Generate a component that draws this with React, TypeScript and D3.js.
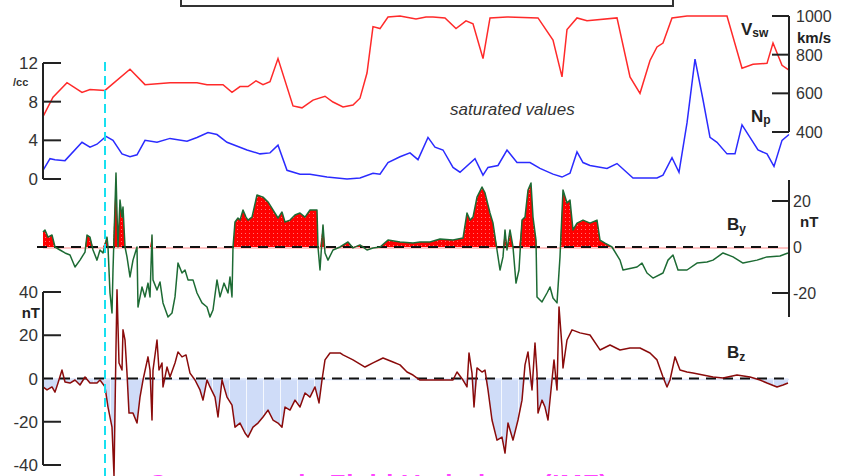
import React from "react";
import * as d3 from "d3";

// time in hours
const vsw: [number, number][] = [
  [0, 480], [1.0, 580], [2.4, 655], [3.9, 605], [4.7, 620], [6.2, 615], [8.7, 725], [10.2, 645],
  [12.7, 655], [15.4, 655], [16.4, 645], [18.0, 645], [18.9, 605], [19.7, 635], [20.5, 635],
  [21.3, 665], [22.0, 645], [22.7, 660], [23.5, 780], [25.0, 535], [25.9, 525], [27.0, 565],
  [28.2, 585], [29.0, 555], [30.0, 530], [31.0, 540], [31.7, 575], [32.4, 705], [33.0, 945],
  [33.7, 935], [34.5, 995], [35.7, 1000], [37.3, 985], [38.3, 995], [39.0, 995], [40.2, 990],
  [41.3, 935], [42.3, 975], [43.0, 960], [44.0, 780], [44.7, 990], [46.4, 995], [49.5, 990],
  [51.0, 875], [51.9, 685], [52.4, 930], [53.4, 990], [54.4, 975], [57.4, 990], [58.7, 685],
  [59.7, 600], [60.7, 770], [61.4, 840], [62.0, 860], [62.9, 990], [64.4, 1000], [68.4, 1000],
  [69.9, 730], [71.0, 750], [72.4, 755], [73.0, 860], [73.9, 745], [74.6, 720],
];

const np: [number, number][] = [
  [0, 0.9], [0.7, 2.1], [1.2, 2.0], [2.2, 1.9], [3.9, 3.8], [4.7, 3.3], [5.4, 3.6], [6.3, 4.4],
  [7.0, 4.0], [7.9, 2.6], [8.7, 2.3], [9.4, 2.5], [10.2, 4.0], [11.4, 3.8], [12.7, 4.2],
  [14.4, 3.9], [15.4, 4.3], [16.5, 4.8], [17.4, 4.6], [18.4, 3.8], [20.4, 3.0], [21.7, 2.6],
  [22.7, 2.7], [23.5, 3.5], [24.4, 0.9], [25.7, 0.5], [26.7, 0.5], [28.4, 0.2], [30.4, 0.0],
  [31.7, 0.1], [33.0, 0.6], [33.7, 0.5], [34.5, 1.7], [35.7, 2.3], [36.7, 2.7], [37.5, 2.0],
  [38.5, 4.3], [39.2, 3.3], [40.0, 3.0], [41.0, 1.2], [41.7, 0.7], [43.2, 2.1], [44.0, 0.4],
  [44.5, 1.2], [45.5, 1.4], [46.4, 3.0], [47.4, 1.7], [48.7, 1.7], [49.7, 1.1], [51.0, 0.5],
  [51.9, 0.2], [52.7, 0.6], [53.4, 2.8], [54.0, 1.7], [54.7, 1.4], [56.4, 1.1], [57.4, 1.6],
  [59.0, 0.1], [61.4, 0.1], [62.0, 0.4], [62.9, 2.2], [63.6, 0.7], [64.4, 5.8], [65.2, 12.4],
  [66.0, 8.2], [66.7, 4.3], [67.4, 3.8], [68.4, 2.6], [69.2, 2.6], [69.9, 5.6], [70.7, 4.3],
  [71.5, 3.0], [72.4, 2.6], [73.1, 1.3], [73.9, 4.0], [74.6, 4.6],
];

const by: [number, number][] = [
  [0, 6.5], [0.2, 7.4], [0.5, 4.3], [0.9, 5.2], [1.2, 0], [1.7, -1.3], [2.2, -2.6], [2.7, -3.5],
  [3.2, -8.7], [3.7, -5.7], [4.2, -2.2], [4.4, 5.2], [4.7, 4.3], [5.0, -1.3], [5.4, -5.7],
  [5.7, -1.3], [6.0, -2.6], [6.4, 4.3], [6.5, 0], [6.7, -20], [6.9, -28.7], [7.0, -10],
  [7.3, 32.2], [7.4, 14.8], [7.5, 0], [7.7, 20.4], [7.9, 13], [8.0, 17.4], [8.2, 0], [8.4, -4.3],
  [8.7, -13], [9.0, -5.7], [9.4, 0], [9.5, -26.1], [9.9, -17.4], [10.2, -21.7], [10.5, -15.7],
  [10.7, -21.7], [10.9, 5.2], [11.0, -14.3], [11.4, -18.7], [11.7, -15.2], [12.0, -24.3],
  [12.5, -30.4], [12.9, -28.7], [13.2, -21.7], [13.5, -7.0], [13.9, -11.3], [14.2, -10],
  [14.5, -14.3], [15.0, -14.3], [15.4, -20], [15.9, -24.3], [16.4, -26.1], [16.7, -30.4],
  [17.0, -27.4], [17.4, -14.3], [17.7, -21.7], [18.1, -15.7], [18.5, -20], [18.7, -13],
  [18.9, -21.7], [19.0, 0], [19.2, 10.9], [19.5, 12.6], [19.7, 11.7], [20.0, 16.1], [20.3, 13],
  [20.5, 11.7], [20.9, 13], [21.4, 22.6], [22.0, 21.7], [22.5, 19.6], [23.0, 16.1], [23.5, 12.6],
  [23.9, 15.2], [24.2, 10.9], [24.7, 11.7], [25.2, 13.9], [25.7, 14.8], [26.2, 13], [26.7, 16.1],
  [27.4, 16.1], [27.5, 0], [27.7, -10], [28.0, 9.6], [28.2, -2.6], [28.5, -5.7], [29.0, -1.3],
  [29.7, 0], [30.5, 2.2], [31.0, -0.4], [31.7, 0.9], [32.4, -1.3], [33.0, -0.4], [33.7, 0],
  [34.5, 3.0], [35.7, 2.2], [37.0, 1.7], [37.7, 2.2], [38.7, 2.2], [39.7, 3.5], [41.0, 3.0],
  [42.0, 3.9], [42.4, 14.8], [42.7, 11.7], [43.0, 13], [43.4, 21.7], [43.9, 26.1], [44.2, 23.5],
  [44.7, 14.8], [45.0, 10.4], [45.4, -1.3], [45.7, -10], [46.0, -4.3], [46.2, 7.4], [46.4, -1.3],
  [46.7, 7.4], [47.0, 0], [47.3, -15.7], [47.6, -10], [47.9, 11.7], [48.2, 13], [48.5, 24.8],
  [48.8, 27.8], [49.0, 13], [49.3, 3.0], [49.4, -21.7], [49.9, -23.9], [50.4, -20], [50.7, -17.4],
  [51.0, -22.2], [51.4, -24.3], [51.7, -4.3], [52.0, 24.8], [52.4, 19.1], [52.7, 20.4],
  [53.0, 7.4], [53.4, 10.4], [54.0, 11.7], [54.7, 10.4], [55.4, 11.7], [55.7, 3.0], [56.2, 1.7],
  [56.9, 0], [57.7, -5.7], [58.0, -10], [59.4, -8.7], [59.9, -7.0], [60.4, -11.3], [61.0, -13.5],
  [62.0, -11.3], [62.5, -5.7], [63.0, -3.5], [63.5, -10], [64.4, -10], [65.4, -7.0], [66.4, -6.5],
  [67.0, -5.7], [68.0, -2.6], [69.0, -4.3], [70.0, -7.0], [71.4, -5.7], [72.4, -4.3],
  [73.7, -3.9], [74.5, -2.6],
];

const bz: [number, number][] = [
  [0, -3.9], [0.4, -5.3], [0.9, -3.9], [1.2, -6.3], [1.5, -2.1], [1.9, 3.9], [2.2, -1.6],
  [2.7, -2.1], [3.2, -0.7], [3.7, -3.0], [4.2, 0.7], [4.7, -2.1], [5.4, -2.1], [5.7, -0.7],
  [6.2, -3.9], [6.5, -13.2], [6.9, -22.5], [7.1, -45], [7.3, 14.6], [7.4, 41], [7.6, 7.2],
  [7.9, 3.9], [8.0, 22.5], [8.2, 17.8], [8.4, 2.5], [8.6, -16], [9.0, -16], [9.4, -20.6],
  [9.7, -8.6], [10.0, -0.7], [10.5, 10], [10.7, 3.9], [10.9, -19.2], [11.0, 3.9], [11.4, 17.8],
  [11.6, 3.9], [11.9, 7.2], [12.0, -3.9], [12.4, 5.3], [12.7, 0.7], [13.2, 7.2], [13.5, 12.3],
  [13.9, 10], [14.3, 10.9], [14.7, 2.5], [15.2, -0.7], [15.7, -5.3], [16.0, -10], [16.4, -0.7],
  [16.7, -3.9], [17.2, -8.6], [17.5, -17.8], [17.9, -0.7], [18.4, -8.6], [18.9, -12.3],
  [19.2, -22.5], [19.7, -20.6], [20.2, -25.2], [20.5, -27.1], [21.0, -22.5], [21.5, -20.6],
  [22.0, -17.8], [22.5, -14.6], [23.0, -19.2], [23.5, -20.6], [23.9, -22.5], [24.2, -13.2],
  [24.7, -14.6], [25.2, -10], [25.7, -13.2], [26.2, -6.7], [26.7, -8.6], [27.2, -3.9],
  [27.6, -11.3], [27.9, -0.7], [28.2, 8.6], [28.7, 11.8], [29.7, 11.8], [30.0, 10.9], [31.0, 8.6],
  [32.2, 5.3], [33.0, 7.2], [34.0, 9.5], [35.0, 7.6], [35.7, 6.3], [36.4, 3.0], [37.0, 1.6],
  [37.7, -0.7], [39.4, -0.7], [41.0, -0.7], [41.4, 3.0], [42.0, -0.7], [42.4, -3.9], [42.6, 11.8],
  [42.9, 2.5], [43.1, -13.2], [43.4, 4.9], [43.9, 3.0], [44.2, 3.9], [44.5, -5.3], [44.9, -19.2],
  [45.4, -28.5], [45.9, -27.1], [46.2, -34.5], [46.5, -20.6], [47.0, -28.5], [47.5, -19.2],
  [47.9, -10], [48.2, 6.3], [48.5, 12.3], [48.9, -5.3], [49.2, 16.4], [49.4, 2.5], [49.5, -16],
  [49.9, -10], [50.2, -13.2], [50.5, -19.2], [50.9, -0.7], [51.1, 8.6], [51.4, -5.3], [51.6, 33.1],
  [51.9, 14.6], [52.0, 4.9], [52.4, 17.8], [52.9, 22.5], [53.7, 21.1], [54.7, 20.1], [55.7, 13.2],
  [56.7, 15.5], [57.7, 13.2], [58.7, 14.1], [59.7, 14.1], [60.7, 11.8], [61.4, 8.6], [62.0, 0.7],
  [62.4, -3.9], [62.7, -0.7], [63.2, 10], [63.7, 3.9], [64.4, 3.0], [65.0, 2.5], [66.0, 1.6],
  [67.0, 0.7], [68.0, 0.2], [69.4, 1.6], [70.7, 0.7], [71.7, -0.7], [72.4, -2.1], [73.4, -3.9],
  [74.0, -3.0], [74.5, -2.1],
];

const npTicks = [0, 4, 8, 12];
const vswTicks = [400, 600, 800, 1000];
const byTicks = [-20, 20];
const byTickLabels = [20, 0, -20];
const bzTicks = [-40, -20, 20, 40];
const bzTickLabels = [40, 20, 0, -20, -40];
const shockTime = 6.2;
const titleText = "Geomagnetic Field Variations (IMF)";

const FONT = "'Liberation Sans', Arial, Helvetica, sans-serif";

export default function App() {
  const x = d3.scaleLinear().domain([0, 74.6]).range([43, 789]);
  const yV = d3.scaleLinear().domain([400, 1000]).range([132, 16]);
  const yN = d3.scaleLinear().domain([0, 12]).range([179, 63]);
  const yBy = d3.scaleLinear().domain([-20, 20]).range([293, 201]);
  const yBz = d3.scaleLinear().domain([-40, 40]).range([465, 292]);

  const lineV = d3.line<[number, number]>().x(d => x(d[0])).y(d => yV(d[1]))(vsw) || "";
  const lineN = d3.line<[number, number]>().x(d => x(d[0])).y(d => yN(d[1]))(np) || "";
  const lineBy = d3.line<[number, number]>().x(d => x(d[0])).y(d => yBy(d[1]))(by) || "";
  const lineBz = d3.line<[number, number]>().x(d => x(d[0])).y(d => yBz(d[1]))(bz) || "";
  const areaBy = d3.area<[number, number]>().x(d => x(d[0])).y0(yBy(0)).y1(d => yBy(Math.max(0, d[1])))(by) || "";
  const areaBz = d3.area<[number, number]>().x(d => x(d[0])).y0(yBz(0)).y1(d => yBz(Math.min(0, d[1])))(bz) || "";

  const tickColor = "#222";
  const lblStyle = { fontFamily: FONT, fontSize: 16, fill: "#333" } as const;

  return (
    <svg width={842} height={476} style={{ position: "absolute", left: 0, top: 0, background: "#fff" }}>
      <defs>
        <pattern id="dots" width={4} height={4} patternUnits="userSpaceOnUse">
          <rect width={4} height={4} fill="#ff0000" />
          <rect x={1} y={1} width={1} height={1} fill="#fff" opacity={0.45} />
        </pattern>
        <pattern id="stripes" width={17} height={10} patternUnits="userSpaceOnUse">
          <rect width={17} height={10} fill="#cfdcf8" />
          <rect x={8} y={0} width={1} height={10} fill="#fff" opacity={0.8} />
        </pattern>
      </defs>

      {/* top box */}
      <rect x={181} y={-20} width={492} height={26} fill="none" stroke="#333" strokeWidth={2} />

      {/* plasma panel */}
      <path d={lineV} fill="none" stroke="#ff2a2a" strokeWidth={1.5} />
      <path d={lineN} fill="none" stroke="#2b2bff" strokeWidth={1.5} />

      {/* Np axis */}
      <line x1={43} x2={43} y1={yN(12)} y2={yN(0)} stroke={tickColor} strokeWidth={2} />
      {npTicks.map(t => (
        <g key={"n" + t}>
          <line x1={43} x2={61} y1={yN(t)} y2={yN(t)} stroke={tickColor} strokeWidth={2} />
          <text x={38} y={yN(t) + 6} textAnchor="end" {...lblStyle} fontSize={17}>{t}</text>
        </g>
      ))}
      <text x={13} y={86} fontFamily={FONT} fontSize={11} fontWeight="bold" fill="#333">/cc</text>

      {/* Vsw axis */}
      <line x1={789} x2={789} y1={yV(1000)} y2={yV(400)} stroke={tickColor} strokeWidth={2} />
      {vswTicks.map(t => (
        <g key={"v" + t}>
          <line x1={772} x2={789} y1={yV(t)} y2={yV(t)} stroke={tickColor} strokeWidth={2} />
          <text x={796} y={yV(t) + 6} {...lblStyle} fontSize={16}>{t}</text>
        </g>
      ))}
      <text x={797} y={43} fontFamily={FONT} fontSize={15} fontWeight="bold" fill="#222">km/s</text>
      <text x={741} y={35} fontFamily={FONT} fontSize={17} fontWeight="bold" fill="#222">
        V<tspan fontSize={12} dy={2}>sw</tspan>
      </text>
      <text x={751} y={122} fontFamily={FONT} fontSize={17} fontWeight="bold" fill="#222">
        N<tspan fontSize={12} dy={2}>p</tspan>
      </text>
      <text x={450} y={115} fontFamily={FONT} fontSize={17} fontStyle="italic" fill="#333">saturated values</text>

      {/* By panel */}
      <path d={areaBy} fill="url(#dots)" stroke="none" />
      <line x1={43} x2={789} y1={yBy(0) + 1} y2={yBy(0) + 1} stroke="#ff8a8a" strokeWidth={1} />
      <line x1={37} x2={785} y1={yBy(0)} y2={yBy(0)} stroke="#111" strokeWidth={2} strokeDasharray="10,7" />
      <path d={lineBy} fill="none" stroke="#1d6b34" strokeWidth={1.5} strokeLinejoin="round" />
      <line x1={789} x2={789} y1={180} y2={317} stroke={tickColor} strokeWidth={2} />
      {byTicks.map(t => (
        <line key={"bt" + t} x1={772} x2={789} y1={yBy(t)} y2={yBy(t)} stroke={tickColor} strokeWidth={2} />
      ))}
      {byTickLabels.map(t => (
        <text key={"bl" + t} x={793} y={yBy(t) + 6} {...lblStyle} fontSize={16}>{t}</text>
      ))}
      <text x={800} y={227} fontFamily={FONT} fontSize={15} fontWeight="bold" fill="#222">nT</text>
      <text x={727} y={230} fontFamily={FONT} fontSize={17} fontWeight="bold" fill="#222">
        B<tspan fontSize={12} dy={3}>y</tspan>
      </text>

      {/* Bz panel */}
      <path d={areaBz} fill="url(#stripes)" stroke="none" />
      <line x1={43} x2={789} y1={yBz(0) + 1} y2={yBz(0) + 1} stroke="#dde7fb" strokeWidth={1.5} />
      <line x1={43} x2={789} y1={yBz(0)} y2={yBz(0)} stroke="#111" strokeWidth={2} strokeDasharray="10,7" />
      <path d={lineBz} fill="none" stroke="#8a0b0b" strokeWidth={1.5} strokeLinejoin="round" />
      <line x1={43} x2={43} y1={yBz(40)} y2={yBz(-40)} stroke={tickColor} strokeWidth={2} />
      {bzTicks.map(t => (
        <line key={"zt" + t} x1={43} x2={61} y1={yBz(t)} y2={yBz(t)} stroke={tickColor} strokeWidth={2} />
      ))}
      {bzTickLabels.map(t => (
        <text key={"zl" + t} x={38} y={yBz(t) + 6} textAnchor="end" {...lblStyle} fontSize={17}>{t}</text>
      ))}
      <text x={40} y={318} textAnchor="end" fontFamily={FONT} fontSize={15} fontWeight="bold" fill="#222">nT</text>
      <text x={727} y={358} fontFamily={FONT} fontSize={17} fontWeight="bold" fill="#222">
        B<tspan fontSize={12} dy={3}>z</tspan>
      </text>

      {/* shock marker */}
      <line x1={x(shockTime)} x2={x(shockTime)} y1={62} y2={476} stroke="#18e0f0" strokeWidth={2} strokeDasharray="9,5" />

      {/* bottom title, cut off by the frame edge as in the original */}
      <text x={148} y={493} fontFamily={FONT} fontSize={26} fontWeight="bold" fill="#ff44ff"
        textLength={460} lengthAdjust="spacing">{titleText}</text>
    </svg>
  );
}
